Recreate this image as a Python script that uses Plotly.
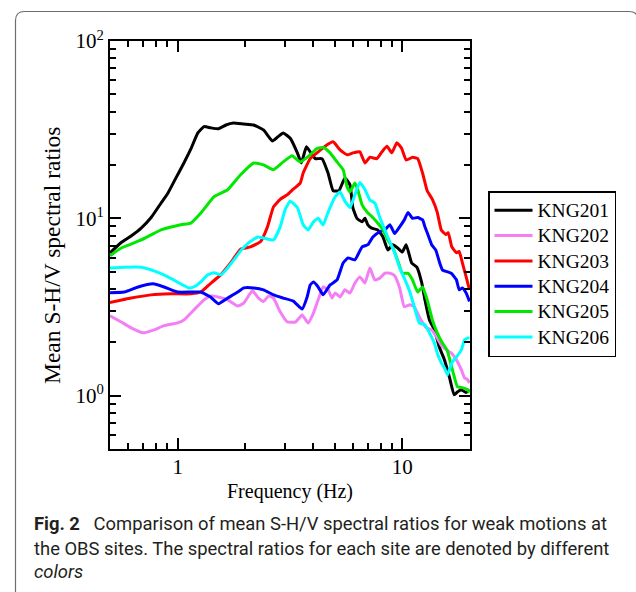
import plotly.graph_objects as go

# ---- data ----
names = ["KNG201", "KNG202", "KNG203", "KNG204", "KNG205", "KNG206"]
colors = ["#000000", "#f47ff4", "#ff0000", "#0000ff", "#00e800", "#00ffff"]

f201 = [0.5, 0.561, 0.621, 0.688, 0.762, 0.844, 0.906, 0.983, 1.066, 1.145, 1.23, 1.31, 1.40, 1.52, 1.64, 1.77, 1.97, 2.18, 2.41, 2.64, 2.80, 2.95, 3.17, 3.41, 3.55, 3.74, 3.89, 4.10, 4.39, 4.67, 4.92, 5.22, 5.55, 5.85, 6.02, 6.28, 6.62, 6.82, 7.02, 7.30, 7.77, 8.20, 8.62, 9.08, 9.53, 10.0, 10.4, 11.0, 11.6, 12.2, 12.6, 13.2, 13.9, 14.6, 15.4, 16.2, 17.0, 17.6, 18.3, 19.2, 19.9]
v201 = [6.38, 7.3, 7.95, 8.8, 10.1, 12.2, 13.9, 16.9, 20.5, 24.6, 30.3, 32.9, 32.4, 32.0, 33.6, 34.5, 34.0, 33.6, 31.5, 27.3, 28.9, 30.3, 28.3, 23.4, 20.5, 25.3, 23.7, 21.7, 21.7, 18.0, 14.3, 14.3, 16.9, 15.4, 11.5, 10.0, 9.55, 10.0, 9.18, 8.8, 8.6, 7.85, 6.63, 7.1, 6.8, 6.45, 7.1, 5.6, 5.3, 4.32, 3.47, 2.67, 2.35, 1.88, 1.59, 1.27, 1.01, 1.05, 1.08, 1.04, 1.08]

f202 = [0.5, 0.561, 0.621, 0.702, 0.786, 0.87, 1.0, 1.066, 1.18, 1.31, 1.40, 1.51, 1.67, 1.85, 1.97, 2.15, 2.29, 2.41, 2.54, 2.67, 2.86, 3.08, 3.34, 3.58, 3.81, 4.02, 4.22, 4.44, 4.67, 4.87, 5.02, 5.28, 5.55, 5.85, 6.15, 6.47, 6.82, 7.17, 7.54, 7.94, 8.36, 8.80, 9.24, 9.73, 10.2, 10.8, 11.3, 11.9, 12.8, 13.5, 14.2, 14.9, 15.7, 16.5, 17.4, 18.3, 18.9, 19.5, 19.9]
v202 = [2.82, 2.6, 2.41, 2.26, 2.35, 2.48, 2.57, 2.67, 3.04, 3.47, 3.65, 3.6, 3.47, 3.2, 3.33, 3.9, 3.55, 3.4, 3.65, 3.55, 2.97, 2.6, 2.6, 2.85, 2.57, 2.92, 3.47, 4.1, 3.95, 3.55, 3.79, 3.6, 3.95, 3.79, 4.32, 4.67, 4.32, 5.25, 4.49, 4.6, 4.9, 4.9, 4.75, 4.05, 3.17, 3.25, 3.17, 2.78, 2.41, 2.35, 2.14, 1.93, 1.81, 1.74, 1.59, 1.40, 1.26, 1.23, 1.18]

f203 = [0.5, 0.621, 0.762, 0.934, 1.145, 1.268, 1.404, 1.555, 1.72, 1.906, 2.11, 2.34, 2.51, 2.67, 2.86, 3.08, 3.27, 3.51, 3.62, 3.89, 4.17, 4.53, 4.92, 5.28, 5.68, 6.03, 6.47, 6.82, 7.17, 7.70, 8.11, 8.54, 8.98, 9.45, 9.91, 10.4, 11.1, 11.7, 12.3, 12.9, 13.6, 14.3, 14.9, 15.6, 16.0, 16.6, 17.4, 17.9, 18.5, 19.2, 19.9]
v203 = [3.35, 3.55, 3.70, 3.75, 3.75, 3.84, 4.3, 4.8, 5.6, 6.7, 6.9, 7.4, 8.95, 11.6, 12.8, 13.6, 14.6, 15.8, 18.0, 21.7, 23.4, 25.5, 27.0, 24.3, 22.8, 23.4, 23.7, 20.5, 22.1, 21.7, 23.7, 25.5, 23.4, 26.7, 24.9, 21.3, 22.1, 21.7, 18.0, 14.3, 12.8, 10.8, 8.6, 8.1, 8.3, 6.9, 6.4, 6.5, 5.6, 4.7, 3.95]

f204 = [0.5, 0.578, 0.667, 0.777, 0.87, 1.0, 1.145, 1.268, 1.40, 1.52, 1.67, 1.85, 1.97, 2.18, 2.41, 2.67, 2.95, 3.27, 3.58, 3.77, 3.89, 4.02, 4.22, 4.44, 4.77, 5.12, 5.45, 5.73, 6.15, 6.62, 7.03, 7.39, 7.94, 8.36, 8.80, 9.24, 9.73, 10.2, 10.6, 11.1, 11.7, 12.3, 12.6, 12.9, 13.5, 14.1, 14.6, 15.1, 15.8, 16.5, 17.4, 17.9, 18.5, 19.2, 19.9]
v204 = [3.8, 3.84, 4.1, 4.27, 4.1, 3.84, 3.84, 3.84, 3.6, 3.3, 3.55, 3.84, 4.05, 4.05, 3.95, 3.7, 3.55, 3.41, 3.08, 3.6, 4.21, 4.37, 4.1, 3.7, 4.21, 4.49, 5.6, 5.98, 5.83, 6.9, 7.1, 7.85, 8.4, 8.6, 9.2, 8.2, 8.95, 9.8, 10.8, 10.0, 10.1, 9.8, 8.95, 8.3, 7.1, 6.6, 5.7, 5.1, 5.0, 4.9, 4.5, 3.95, 4.05, 3.8, 3.4]

f205 = [0.5, 0.561, 0.688, 0.844, 1.034, 1.145, 1.268, 1.45, 1.67, 1.906, 2.18, 2.41, 2.67, 2.95, 3.23, 3.51, 3.89, 4.17, 4.46, 4.77, 5.12, 5.45, 5.68, 5.85, 6.15, 6.33, 6.62, 6.95, 7.38, 7.77, 8.20, 8.62, 9.08, 9.53, 10.0, 10.6, 11.1, 11.7, 12.3, 12.9, 13.6, 14.3, 15.0, 15.8, 16.7, 17.6, 18.5, 19.5, 19.9]
v205 = [6.15, 6.8, 7.55, 8.6, 9.2, 9.4, 10.7, 13.2, 14.5, 17.6, 20.5, 20.0, 18.8, 20.8, 22.5, 20.8, 22.8, 24.8, 25.1, 23.4, 20.8, 18.8, 15.0, 14.1, 15.8, 14.5, 11.9, 10.9, 10.1, 9.4, 8.6, 7.55, 6.8, 5.8, 4.9, 4.9, 4.49, 3.84, 4.1, 3.47, 2.67, 2.26, 2.0, 1.81, 1.40, 1.12, 1.11, 1.08, 1.04]

f206 = [0.5, 0.578, 0.688, 0.786, 0.906, 1.013, 1.12, 1.18, 1.268, 1.36, 1.45, 1.555, 1.67, 1.78, 1.906, 2.05, 2.27, 2.41, 2.67, 2.86, 3.01, 3.17, 3.41, 3.62, 3.81, 4.02, 4.22, 4.44, 4.67, 5.02, 5.28, 5.55, 5.85, 6.15, 6.47, 6.82, 7.17, 7.54, 7.94, 8.36, 8.80, 9.24, 9.73, 10.2, 10.8, 11.3, 11.9, 12.6, 13.2, 13.9, 14.3, 14.9, 15.4, 15.9, 16.6, 17.4, 18.3, 18.9, 19.5, 19.9]
v206 = [5.25, 5.3, 5.3, 5.05, 4.67, 4.32, 4.05, 4.1, 4.38, 4.8, 4.93, 4.8, 5.25, 5.83, 6.55, 7.2, 7.85, 7.75, 7.55, 8.95, 11.2, 12.5, 11.5, 9.18, 8.6, 9.55, 10.0, 9.18, 10.8, 13.2, 14.1, 12.5, 11.5, 13.6, 15.9, 14.5, 12.7, 12.2, 10.1, 8.6, 7.35, 6.4, 5.25, 4.6, 3.84, 3.17, 2.57, 2.51, 2.26, 1.97, 1.74, 1.53, 1.43, 1.31, 1.53, 1.65, 1.81, 2.06, 2.11, 2.11]

freqs = [f201, f202, f203, f204, f205, f206]
values = [v201, v202, v203, v204, v205, v206]

x_title = "Frequency (Hz)"
y_title = "Mean S-H/V spectral ratios"
x_tickvals = [1, 10]
x_ticktext = ["1", "10"]
y_tickvals = [1, 10, 100]
y_ticktext = ["10<sup>0</sup>", "10<sup>1</sup>", "10<sup>2</sup>"]
caption = [
    "<b>Fig. 2</b>\u00a0\u00a0 Comparison of mean S-H/V spectral ratios for weak motions at",
    "the OBS sites. The spectral ratios for each site are denoted by different",
    "<i>colors</i>",
]

# ---- figure ----
serif = "Liberation Serif"
fig = go.Figure()
for n, c, fx, vy in zip(names, colors, freqs, values):
    fig.add_trace(go.Scatter(x=fx, y=vy, mode="lines",
                             name=f'<span style="font-size:19.5px">{n}</span>',
                             line=dict(color=c, width=3, shape="spline", smoothing=0.4)))

x_minor = [a * d for d in (0.1, 1, 10) for a in range(2, 10) if 0.5 <= a * d <= 20]
y_minor = [a * d for d in (0.1, 1, 10) for a in range(2, 10) if 0.5 <= a * d <= 100]

axis_common = dict(type="log", showgrid=False, zeroline=False, showline=True,
                   linecolor="black", linewidth=2, mirror="ticks", ticks="inside",
                   ticklen=11, tickwidth=2, tickcolor="black",
                   tickfont=dict(family=serif, size=21, color="black"))

fig.update_xaxes(range=[0.69897 - 1, 1.30103], tickmode="array", tickvals=x_tickvals,
                 ticktext=x_ticktext,
                 minor=dict(tickmode="array", tickvals=x_minor, ticks="inside", ticklen=6,
                            tickwidth=2, tickcolor="black"),
                 title=dict(text=x_title, font=dict(family=serif, size=20, color="black"),
                            standoff=6),
                 ticklabelstandoff=-2,
                 **axis_common)
fig.update_yaxes(range=[0.69897 - 1, 2], tickmode="array", tickvals=y_tickvals,
                 ticktext=y_ticktext,
                 minor=dict(tickmode="array", tickvals=y_minor, ticks="inside", ticklen=6,
                            tickwidth=2, tickcolor="black"),
                 **axis_common)

L, R, T, B = 110, 166, 41, 143
W, H = 636, 592
pw, ph = W - L - R, H - T - B

def px(xp):
    return (xp - L) / pw

def py(yp):
    return (H - B - yp) / ph

# y-axis title (placed like the reference, slightly below the plot centre)
fig.add_annotation(text=y_title, xref="paper", yref="paper", x=px(52), y=py(256),
                   xanchor="center", yanchor="middle", textangle=-90, showarrow=False,
                   font=dict(family=serif, size=23.5, color="black"))

# caption
cap_y = [523.5, 548.5, 571]
for txt, yy in zip(caption, cap_y):
    fig.add_annotation(text=txt, xref="paper", yref="paper", x=px(31.5), y=py(yy),
                       xanchor="left", yanchor="middle", showarrow=False,
                       font=dict(family="Roboto", size=18.4, color="#231f20"))

# outer frame (rounded top corners)
x0, x1, y0, y1 = px(15.5), px(638), py(600), py(11.5)
rx, ry = 9 / pw, 9 / ph
path = (f"M {x0},{y0} L {x0},{y1 - ry} Q {x0},{y1} {x0 + rx},{y1} "
        f"L {x1 - rx},{y1} Q {x1},{y1} {x1},{y1 - ry} L {x1},{y0}")
fig.add_shape(type="path", path=path, xref="paper", yref="paper",
              line=dict(color="#6e6e6e", width=1.2))

fig.update_layout(
    width=W, height=H, margin=dict(l=L, r=R, t=T, b=B, pad=0),
    paper_bgcolor="white", plot_bgcolor="white",
    showlegend=True,
    legend=dict(x=px(488), y=py(191), xanchor="left", yanchor="top",
                bordercolor="black", borderwidth=1.5, bgcolor="white",
                font=dict(family=serif, size=17.2, color="black"),
                itemwidth=38, tracegroupgap=0),
)

fig.write_html("out.html")
